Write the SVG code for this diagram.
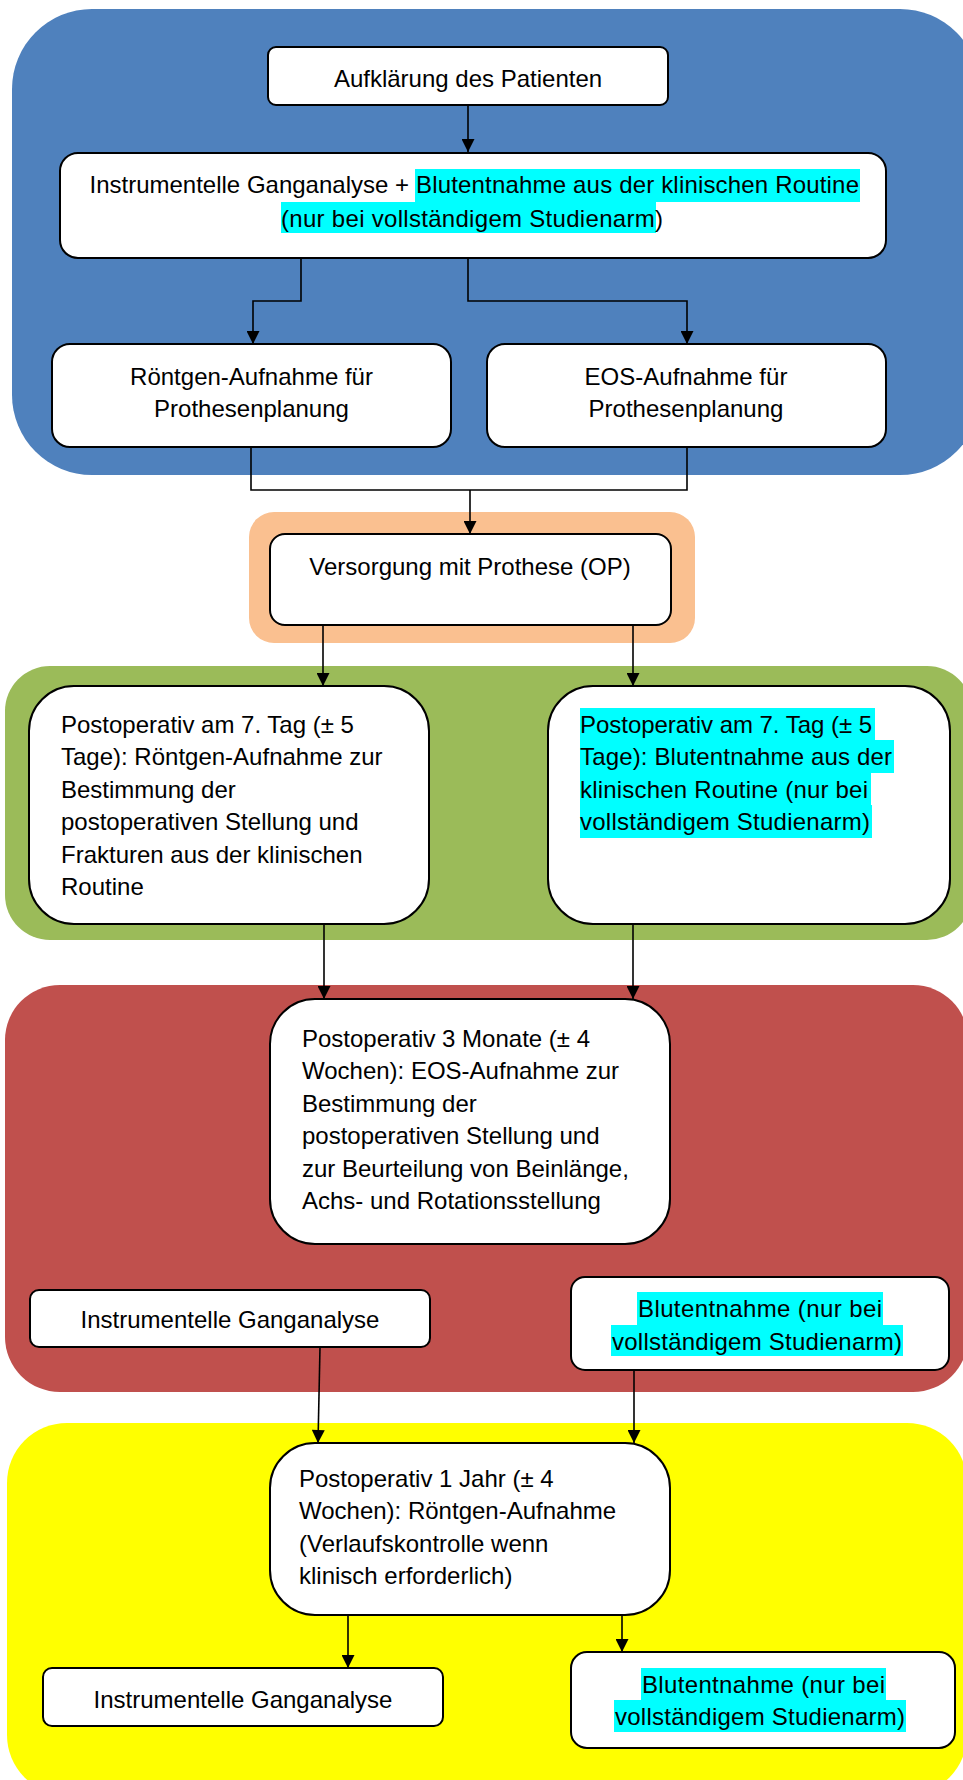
<svg xmlns="http://www.w3.org/2000/svg" width="963" height="1780" viewBox="0 0 963 1780">
<style>
.box{fill:#fff;stroke:#000;stroke-width:2}
.t{font-family:"Liberation Sans",Arial,sans-serif;font-size:24px;fill:#000}
.m{text-anchor:middle}
.hl{fill:#00FFFF}
.c{fill:none;stroke:#000;stroke-width:1.6}
</style>
<defs>
<marker id="ah" viewBox="0 0 10 10" refX="10" refY="5" markerWidth="14" markerHeight="13" markerUnits="userSpaceOnUse" orient="auto">
<path d="M0,0 L10,5 L0,10 z" fill="#000"/>
</marker>
</defs>
<g id="bg">
<rect x="12" y="9" width="968" height="466" rx="80" fill="#4F81BD"/>
<rect x="249" y="512" width="446" height="131" rx="25" fill="#FAC090"/>
<rect x="5" y="666" width="967" height="274" rx="45" fill="#9BBB59"/>
<rect x="5" y="985" width="963" height="407" rx="55" fill="#C0504D"/>
<rect x="7" y="1423" width="960" height="372" rx="60" fill="#FFFF00"/>
</g>
<g id="connectors">
<path class="c" d="M468,105 V152" marker-end="url(#ah)"/>
<path class="c" d="M301,258 V301 H253 V344" marker-end="url(#ah)"/>
<path class="c" d="M468,258 V301 H687 V344" marker-end="url(#ah)"/>
<path class="c" d="M251,447 V490 H687 V447"/>
<path class="c" d="M470,490 V534" marker-end="url(#ah)"/>
<path class="c" d="M323,625 V686" marker-end="url(#ah)"/>
<path class="c" d="M633,625 V686" marker-end="url(#ah)"/>
<path class="c" d="M324,924 V999" marker-end="url(#ah)"/>
<path class="c" d="M633,924 V999" marker-end="url(#ah)"/>
<path class="c" d="M320,1347 L318,1443" marker-end="url(#ah)"/>
<path class="c" d="M634,1370 V1443" marker-end="url(#ah)"/>
<path class="c" d="M348,1615 V1668" marker-end="url(#ah)"/>
<path class="c" d="M622,1615 V1652" marker-end="url(#ah)"/>
</g>
<g id="n1">
<rect class="box" x="268" y="47" width="400" height="58" rx="8"/>
<text class="t m" x="468" y="87">Aufklärung des Patienten</text>
</g>
<g id="n2">
<rect class="box" x="60" y="153" width="826" height="105" rx="18"/>
<rect class="hl" x="415" y="169" width="445" height="33"/>
<rect class="hl" x="281" y="202" width="375" height="31"/>
<text class="t" x="409" y="193" text-anchor="end">Instrumentelle Ganganalyse +</text>
<text class="t" x="416" y="193" textLength="443">Blutentnahme aus der klinischen Routine</text>
<text class="t" x="281" y="227" textLength="382">(nur bei vollständigem Studienarm)</text>
</g>
<g id="n3">
<rect class="box" x="52" y="344" width="399" height="103" rx="18"/>
<text class="t m" x="251.5" y="385">Röntgen-Aufnahme für</text>
<text class="t m" x="251.5" y="417">Prothesenplanung</text>
</g>
<g id="n4">
<rect class="box" x="487" y="344" width="399" height="103" rx="18"/>
<text class="t m" x="686" y="385">EOS-Aufnahme für</text>
<text class="t m" x="686" y="417">Prothesenplanung</text>
</g>
<g id="n5">
<rect class="box" x="270" y="534" width="401" height="91" rx="15"/>
<text class="t m" x="470" y="575">Versorgung mit Prothese (OP)</text>
</g>
<g id="n6">
<rect class="box" x="29" y="686" width="400" height="238" rx="45"/>
<text class="t" x="61" y="733">Postoperativ am 7. Tag (± 5</text>
<text class="t" x="61" y="765.4">Tage): Röntgen-Aufnahme zur</text>
<text class="t" x="61" y="797.8">Bestimmung der</text>
<text class="t" x="61" y="830.2">postoperativen Stellung und</text>
<text class="t" x="61" y="862.6">Frakturen aus der klinischen</text>
<text class="t" x="61" y="895">Routine</text>
</g>
<g id="n7">
<rect class="box" x="548" y="686" width="402" height="238" rx="45"/>
<rect class="hl" x="580" y="708" width="295" height="33"/>
<rect class="hl" x="580" y="740" width="314" height="33"/>
<rect class="hl" x="580" y="772" width="291" height="33"/>
<rect class="hl" x="580" y="805" width="292" height="33"/>
<text class="t" x="580" y="733" textLength="292">Postoperativ am 7. Tag (± 5</text>
<text class="t" x="580" y="765.4" textLength="312">Tage): Blutentnahme aus der</text>
<text class="t" x="580" y="797.8" textLength="288">klinischen Routine (nur bei</text>
<text class="t" x="580" y="830.2" textLength="290">vollständigem Studienarm)</text>
</g>
<g id="n8">
<rect class="box" x="270" y="999" width="400" height="245" rx="45"/>
<text class="t" x="302" y="1047">Postoperativ 3 Monate (± 4</text>
<text class="t" x="302" y="1079.4">Wochen): EOS-Aufnahme zur</text>
<text class="t" x="302" y="1111.8">Bestimmung der</text>
<text class="t" x="302" y="1144.2">postoperativen Stellung und</text>
<text class="t" x="302" y="1176.6">zur Beurteilung von Beinlänge,</text>
<text class="t" x="302" y="1209">Achs- und Rotationsstellung</text>
</g>
<g id="n9">
<rect class="box" x="30" y="1290" width="400" height="57" rx="9"/>
<text class="t m" x="230" y="1328">Instrumentelle Ganganalyse</text>
</g>
<g id="n10">
<rect class="box" x="571" y="1277" width="378" height="93" rx="14"/>
<rect class="hl" x="637" y="1292" width="246" height="33"/>
<rect class="hl" x="611" y="1325" width="292" height="31"/>
<text class="t m" x="760" y="1317" textLength="244">Blutentnahme (nur bei</text>
<text class="t m" x="757" y="1350" textLength="290">vollständigem Studienarm)</text>
</g>
<g id="n11">
<rect class="box" x="270" y="1443" width="400" height="172" rx="45"/>
<text class="t" x="299" y="1487">Postoperativ 1 Jahr (± 4</text>
<text class="t" x="299" y="1519.4">Wochen): Röntgen-Aufnahme</text>
<text class="t" x="299" y="1551.8">(Verlaufskontrolle wenn</text>
<text class="t" x="299" y="1584.2">klinisch erforderlich)</text>
</g>
<g id="n12">
<rect class="box" x="43" y="1668" width="400" height="58" rx="9"/>
<text class="t m" x="243" y="1708">Instrumentelle Ganganalyse</text>
</g>
<g id="n13">
<rect class="box" x="571" y="1652" width="384" height="96" rx="16"/>
<rect class="hl" x="641" y="1668" width="245" height="32"/>
<rect class="hl" x="614" y="1700" width="292" height="32"/>
<text class="t m" x="763.5" y="1693" textLength="243">Blutentnahme (nur bei</text>
<text class="t m" x="760" y="1725" textLength="290">vollständigem Studienarm)</text>
</g>
</svg>
